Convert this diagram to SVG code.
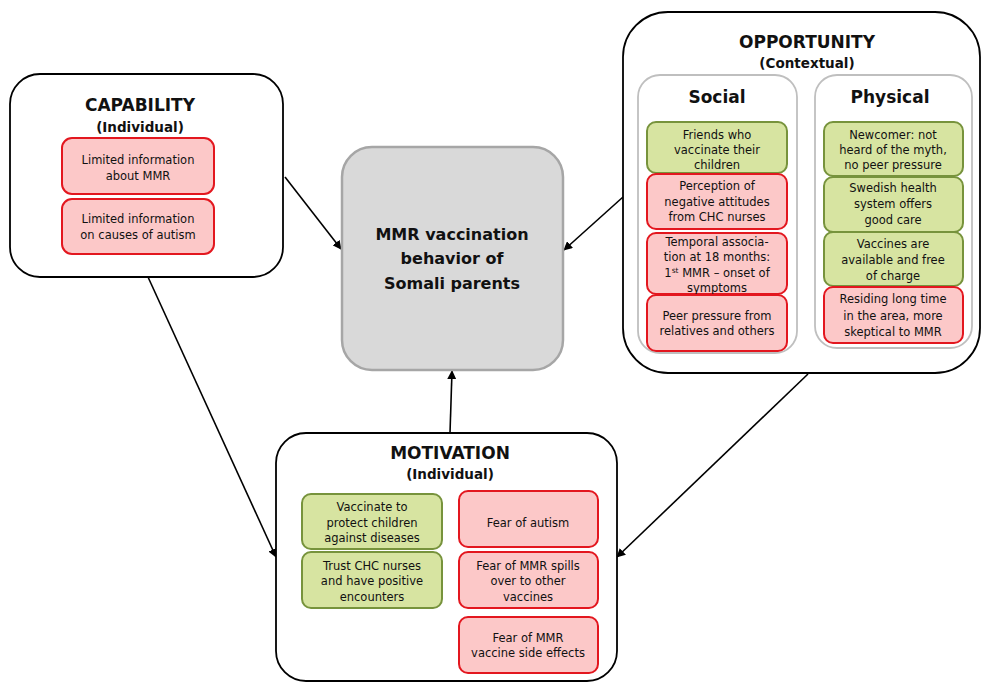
<svg xmlns="http://www.w3.org/2000/svg" width="981" height="682" viewBox="0 0 981 682">
<defs>
<marker id="ah" viewBox="0 0 10 10" refX="9" refY="5" markerWidth="9" markerHeight="9" markerUnits="userSpaceOnUse" orient="auto">
<path d="M0,0 L10,5 L0,10 z" fill="#000"/>
</marker>
<style>
.outer{fill:#fff;stroke:#000;stroke-width:1.8}
.sub{fill:#fff;stroke:#bfbfbf;stroke-width:1.8}
.red{fill:#fcc8c8;stroke:#e3171f;stroke-width:2}
.green{fill:#d7e4a1;stroke:#77933c;stroke-width:2}
.ctr{fill:#d9d9d9;stroke:#a6a6a6;stroke-width:2.5}
text{font-family:"DejaVu Sans","Liberation Sans",sans-serif;text-anchor:middle;fill:#111}
.t{font-size:11.5px}
.h{font-size:17px;font-weight:bold}
.s{font-size:13.5px;font-weight:bold}
.c{font-size:16px;font-weight:bold}
.conn{stroke:#000;stroke-width:1.6;fill:none}
</style>
</defs>

<g id="connectors">
<line class="conn" x1="285" y1="177" x2="341" y2="249" marker-end="url(#ah)"/>
<line class="conn" x1="623" y1="197" x2="564" y2="250" marker-end="url(#ah)"/>
<line class="conn" x1="450" y1="433" x2="452" y2="371" marker-end="url(#ah)"/>
<line class="conn" x1="148" y1="277" x2="276" y2="557" marker-end="url(#ah)"/>
<line class="conn" x1="808" y1="374" x2="617" y2="557" marker-end="url(#ah)"/>
</g>

<g id="capability">
<rect class="outer" x="10" y="74" width="273" height="203" rx="30"/>
<text class="h" x="140" y="111">CAPABILITY</text>
<text class="s" x="140" y="132">(Individual)</text>
<rect class="red" x="62" y="138" width="152" height="56" rx="10"/>
<text class="t" x="138" y="164">Limited information</text>
<text class="t" x="138" y="180">about MMR</text>
<rect class="red" x="62" y="199" width="152" height="55" rx="10"/>
<text class="t" x="138" y="223">Limited information</text>
<text class="t" x="138" y="239">on causes of autism</text>
</g>

<g id="behavior">
<rect class="ctr" x="342" y="147" width="221" height="223" rx="30"/>
<text class="c" x="452" y="240">MMR vaccination</text>
<text class="c" x="452" y="264">behavior of</text>
<text class="c" x="452" y="289">Somali parents</text>
</g>

<g id="opportunity">
<rect class="outer" x="623" y="12" width="357" height="361" rx="45"/>
<text class="h" x="807" y="48">OPPORTUNITY</text>
<text class="s" x="807" y="68">(Contextual)</text>
<g id="social">
<rect class="sub" x="638" y="75" width="159" height="278" rx="22"/>
<text class="h" x="717" y="103">Social</text>
<rect class="green" x="647" y="122" width="140" height="51" rx="9"/>
<text class="t" x="717" y="139">Friends who</text>
<text class="t" x="717" y="154">vaccinate their</text>
<text class="t" x="717" y="169">children</text>
<rect class="red" x="647" y="174" width="140" height="55" rx="9"/>
<text class="t" x="717" y="190">Perception of</text>
<text class="t" x="717" y="206">negative attitudes</text>
<text class="t" x="717" y="221">from CHC nurses</text>
<rect class="red" x="647" y="233" width="140" height="61" rx="9"/>
<text class="t" x="717" y="246">Temporal associa-</text>
<text class="t" x="717" y="261">tion at 18 months:</text>
<text class="t" x="717" y="277">1<tspan font-size="7.5px" dy="-4">st</tspan><tspan dy="4"> MMR – onset of</tspan></text>
<text class="t" x="717" y="292">symptoms</text>
<rect class="red" x="647" y="295" width="140" height="56" rx="9"/>
<text class="t" x="717" y="320">Peer pressure from</text>
<text class="t" x="717" y="335">relatives and others</text>
</g>
<g id="physical">
<rect class="sub" x="815" y="75" width="157" height="273" rx="22"/>
<text class="h" x="890" y="103">Physical</text>
<rect class="green" x="824" y="122" width="139" height="54" rx="9"/>
<text class="t" x="893" y="139">Newcomer: not</text>
<text class="t" x="893" y="154">heard of the myth,</text>
<text class="t" x="893" y="169">no peer pressure</text>
<rect class="green" x="824" y="177" width="139" height="55" rx="9"/>
<text class="t" x="893" y="192">Swedish health</text>
<text class="t" x="893" y="208">system offers</text>
<text class="t" x="893" y="224">good care</text>
<rect class="green" x="824" y="232" width="139" height="54" rx="9"/>
<text class="t" x="893" y="248">Vaccines are</text>
<text class="t" x="893" y="264">available and free</text>
<text class="t" x="893" y="280">of charge</text>
<rect class="red" x="824" y="287" width="139" height="56" rx="9"/>
<text class="t" x="893" y="303">Residing long time</text>
<text class="t" x="893" y="320">in the area, more</text>
<text class="t" x="893" y="336">skeptical to MMR</text>
</g>
</g>

<g id="motivation">
<rect class="outer" x="276" y="433" width="341" height="248" rx="30"/>
<text class="h" x="450" y="459">MOTIVATION</text>
<text class="s" x="450" y="479">(Individual)</text>
<rect class="green" x="302" y="494" width="140" height="55" rx="9"/>
<text class="t" x="372" y="511">Vaccinate to</text>
<text class="t" x="372" y="527">protect children</text>
<text class="t" x="372" y="542">against diseases</text>
<rect class="green" x="302" y="552" width="140" height="56" rx="9"/>
<text class="t" x="372" y="570">Trust CHC nurses</text>
<text class="t" x="372" y="585">and have positive</text>
<text class="t" x="372" y="601">encounters</text>
<rect class="red" x="459" y="491" width="139" height="56" rx="9"/>
<text class="t" x="528" y="527">Fear of autism</text>
<rect class="red" x="459" y="552" width="139" height="56" rx="9"/>
<text class="t" x="528" y="570">Fear of MMR spills</text>
<text class="t" x="528" y="585">over to other</text>
<text class="t" x="528" y="601">vaccines</text>
<rect class="red" x="459" y="617" width="139" height="56" rx="9"/>
<text class="t" x="528" y="642">Fear of MMR</text>
<text class="t" x="528" y="657">vaccine side effects</text>
</g>
</svg>
